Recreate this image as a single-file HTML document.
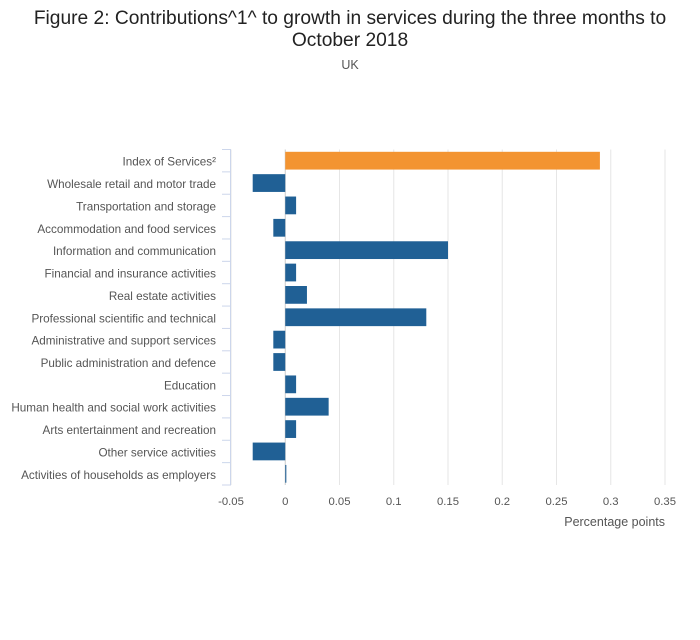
<!DOCTYPE html>
<html><head><meta charset="utf-8"><style>
body{margin:0;background:#fff;font-family:"Liberation Sans",sans-serif;}
</style></head><body>
<svg width="700" height="635" xmlns="http://www.w3.org/2000/svg" font-family="Liberation Sans, sans-serif">
<text x="350" y="24" text-anchor="middle" font-size="19.2" fill="#222">Figure 2: Contributions^1^ to growth in services during the three months to</text>
<text x="350" y="46" text-anchor="middle" font-size="19.2" fill="#222">October 2018</text>
<text x="350" y="69" text-anchor="middle" font-size="12.5" fill="#555">UK</text>
<g id="plot"></g>
<text x="665" y="526" text-anchor="end" font-size="12.5" fill="#555">Percentage points</text>
</svg>
<script>
const categories=["Index of Services²","Wholesale retail and motor trade","Transportation and storage","Accommodation and food services","Information and communication","Financial and insurance activities","Real estate activities","Professional scientific and technical","Administrative and support services","Public administration and defence","Education","Human health and social work activities","Arts entertainment and recreation","Other service activities","Activities of households as employers"];
const values=[0.29,-0.03,0.01,-0.011,0.15,0.01,0.02,0.13,-0.011,-0.011,0.01,0.04,0.01,-0.03,0.001];
const tickValues=[-0.05,0,0.05,0.1,0.15,0.2,0.25,0.3,0.35];
const tickLabels=["-0.05","0","0.05","0.1","0.15","0.2","0.25","0.3","0.35"];
const NS="http://www.w3.org/2000/svg";
const plotG=document.getElementById('plot');
const x0=231,x1=665,yTop=149.5,yBot=485;
const xMin=-0.05,xMax=0.35;
const xs=v=>x0+(v-xMin)/(xMax-xMin)*(x1-x0);
const band=(yBot-yTop)/categories.length;
const ys=i=>yTop+i*band;
function mk(t,a){const e=document.createElementNS(NS,t);for(const k in a)e.setAttribute(k,a[k]);plotG.appendChild(e);return e;}
tickValues.forEach((v,i)=>{
  const l=mk('line',{x1:xs(v),x2:xs(v),y1:yTop,y2:yBot,stroke:v===0?'#ccc':'#e6e6e6','stroke-width':1});
  
  
  const t=mk('text',{x:xs(v),y:505,'text-anchor':'middle','font-size':11.3,fill:'#555'});
  t.textContent=tickLabels[i];
  
  
});
const ax=mk('line',{x1:x0-0.5,x2:x0-0.5,y1:yTop,y2:yBot,stroke:'#ccd6eb','stroke-width':1});


for(let i=0;i<=categories.length;i++){
  const tk=mk('line',{x1:222,x2:x0,y1:ys(i),y2:ys(i),stroke:'#ccd6eb','stroke-width':1});
  
  
}
categories.forEach((c,i)=>{
  const t=mk('text',{x:216,y:ys(i)+band/2+5,'text-anchor':'end','font-size':11.7,fill:'#555'});
  t.textContent=c;
  
  
  const v=values[i];
  const a=xs(Math.min(0,v)),b=xs(Math.max(0,v));
  const r=mk('rect',{x:a,y:ys(i)+2.3,width:Math.max(1,b-a),height:band-4.6,fill:i===0?'#f39431':'#206095'});
  
  
});
</script>
</body></html>
